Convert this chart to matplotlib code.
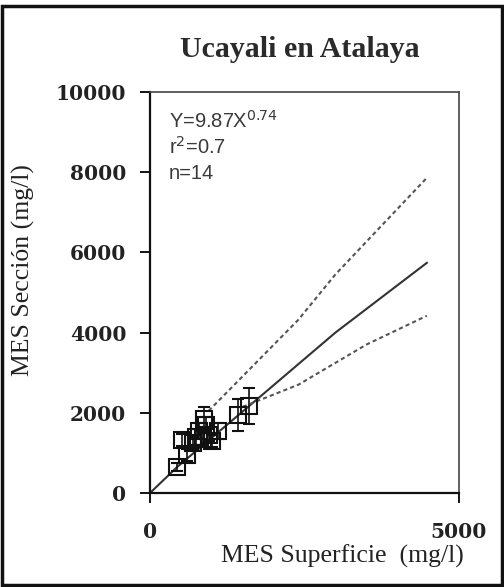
import matplotlib
matplotlib.use('Agg')
import matplotlib.pyplot as plt
from matplotlib.patches import Rectangle

# --- Data: suspended sediment, surface vs. cross-section (mg/l) ---
mes_superficie = [440, 600, 520, 700, 750, 800, 850, 900, 870, 950, 1100, 1000, 1420, 1600]
mes_seccion = [650, 950, 1320, 1250, 1400, 1550, 1350, 1700, 1850, 1450, 1550, 1300, 1950, 2170]
mes_seccion_err = [100, 150, 150, 150, 200, 200, 150, 200, 300, 150, 200, 150, 400, 450]

# fitted curve and its confidence band
fit_x = [0, 440, 1620, 3000, 4480]
fit_y = [0, 650, 2190, 4000, 5740]
upper_x = [950, 2400, 3000, 4480]
upper_y = [2050, 4320, 5450, 7860]
lower_x = [1500, 2400, 3500, 4480]
lower_y = [2150, 2700, 3700, 4420]

x_ticks = [0, 5000]
y_ticks = [0, 2000, 4000, 6000, 8000, 10000]

serif = 'Liberation Serif'
tick_font = {'family': 'DejaVu Serif', 'weight': 'bold', 'size': 14.5}


def main():
    fig = plt.figure(figsize=(5.04, 5.87), dpi=100)
    ax = fig.add_axes([0.2976, 0.1601, 0.6131, 0.6832])

    # --- Curves ---
    ax.plot(fit_x, fit_y, color='#333333', lw=1.5, zorder=2)
    ax.plot(upper_x, upper_y, color='#555555', lw=1.5, ls=(0, (2, 1.5)), zorder=2)
    ax.plot(lower_x, lower_y, color='#555555', lw=1.5, ls=(0, (2, 1.5)), zorder=2)

    # --- Observations ---
    ax.errorbar(mes_superficie, mes_seccion, yerr=mes_seccion_err, fmt='s',
                mfc='none', mec='#111111', mew=1.5, ms=11,
                ecolor='#111111', elinewidth=1.2, capsize=4, capthick=1.2, zorder=3)

    ax.set_xlim(0, 5000)
    ax.set_ylim(0, 10000)
    ax.set_xticks(x_ticks)
    ax.set_yticks(y_ticks)
    ax.set_xticklabels([str(t) for t in x_ticks], fontdict=tick_font, color='#222222')
    ax.set_yticklabels([str(t) for t in y_ticks], fontdict=tick_font, color='#222222')
    ax.tick_params(axis='y', direction='out', length=7, width=1.3, pad=10)
    ax.tick_params(axis='x', direction='out', length=7, width=1.3, pad=14)

    for side in ['left', 'bottom']:
        ax.spines[side].set_linewidth(1.6)
        ax.spines[side].set_color('#111111')
    for side in ['top', 'right']:
        ax.spines[side].set_linewidth(1.2)
        ax.spines[side].set_color('#444444')

    # --- Regression annotation ---
    eq_font = {'family': 'Liberation Sans', 'size': 14.5, 'color': '#3a3a3a'}
    ax.text(0.06, 0.955, r'Y=9.87X$^{0.74}$', transform=ax.transAxes, va='top', **eq_font)
    ax.text(0.06, 0.89, r'r$^{2}$=0.7', transform=ax.transAxes, va='top', **eq_font)
    ax.text(0.06, 0.82, 'n=14', transform=ax.transAxes, va='top', **eq_font)

    # --- Titles and axis labels ---
    fig.text(0.594, 1 - 57 / 587, 'Ucayali en Atalaya', family=serif, size=21.5,
             weight='bold', color='#2a2a2a', ha='center', va='baseline')
    fig.text(0.679, 1 - 563 / 587, 'MES Superficie  (mg/l)', family=serif, size=18.5,
             color='#222222', ha='center', va='baseline')
    fig.text(0.046, 1 - 270 / 587, 'MES Sección (mg/l)', family=serif, size=18.5,
             color='#222222', ha='center', va='center', rotation=90)

    # outer frame
    fig.patches.append(Rectangle((0.004, 0.004), 0.992, 0.986, transform=fig.transFigure,
                                 fill=False, edgecolor='#111111', lw=2.5))

    fig.savefig('out.png', dpi=100)


if __name__ == '__main__':
    main()
